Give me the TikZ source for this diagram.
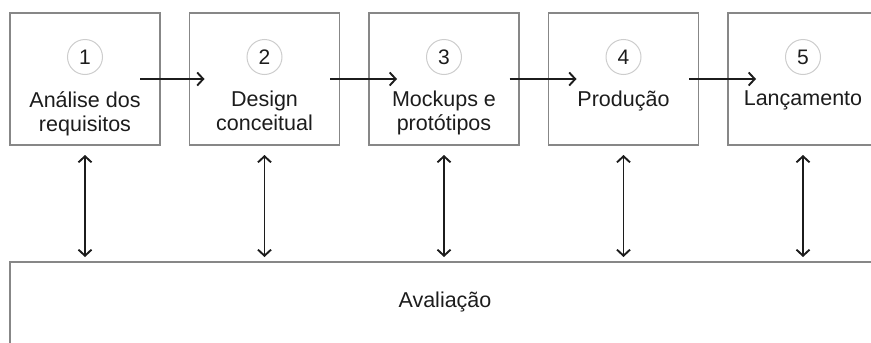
\documentclass[tikz,border=0pt]{standalone}
\usepackage{fontspec}
\setmainfont{Liberation Sans}
\usetikzlibrary{arrows.meta, positioning, calc}
\definecolor{boxgray}{RGB}{135,135,135}
\definecolor{ringgray}{RGB}{205,205,205}
\definecolor{inkgray}{RGB}{28,28,28}
\tikzset{
    stagebox/.style={rectangle, draw=boxgray, line width=1.3pt, minimum width=150pt, minimum height=132pt, inner sep=0pt, outer sep=0pt},
    evalbox/.style={rectangle, draw=boxgray, line width=1.3pt, minimum width=900pt, minimum height=120pt, inner sep=0pt, outer sep=0pt},
    flow/.style={-{Straight Barb[length=6pt, width=13pt]}, line width=1.9pt, inkgray},
    twoway/.style={{Straight Barb[length=6pt, width=13pt]}-{Straight Barb[length=6pt, width=13pt]}, line width=1.9pt, inkgray},
}

\begin{document}
\begin{tikzpicture}[
    x=1pt, y=1pt,
    node distance=29.5pt,
    numring/.style={circle, draw=ringgray, line width=1pt, minimum size=35pt, inner sep=0pt, text=inkgray, font=\fontsize{21}{24}\selectfont},
    stagetxt/.style={anchor=north, inner sep=0pt, align=center, text=inkgray, font=\fontsize{21.5}{24}\selectfont},
]
\useasboundingbox (0,0) rectangle (871,-343);
\clip (0,0) rectangle (871,-343);

% Stages
\node[stagebox] (b1) at (85,-79) {};
\node[stagebox, right=of b1] (b2) {};
\node[stagebox, right=of b2] (b3) {};
\node[stagebox, right=of b3] (b4) {};
\node[stagebox, right=of b4] (b5) {};

\node[numring] (n1) at ($(b1.north)+(0,-44)$) {1};
\node[numring] (n2) at ($(b2.north)+(0,-44)$) {2};
\node[numring] (n3) at ($(b3.north)+(0,-44)$) {3};
\node[numring] (n4) at ($(b4.north)+(0,-44)$) {4};
\node[numring] (n5) at ($(b5.north)+(0,-44)$) {5};

\node[stagetxt] (t1) at ($(b1.north)+(0,-78)$) {Análise dos\\requisitos};
\node[stagetxt] (t2) at ($(b2.north)+(0,-78)$) {Design\\conceitual};
\node[stagetxt] (t3) at ($(b3.north)+(0,-78)$) {Mockups e\\protótipos};
\node[stagetxt] (t4) at ($(b4.north)+(0,-78)$) {Produção};
\node[stagetxt] (t5) at ($(b5.north)+(0,-78)$) {Lançamento};

% Evaluation
\node[evalbox, anchor=north west] (aval) at (10,-262) {};
\node[text=inkgray, font=\fontsize{21.5}{24}\selectfont] (avaltxt) at ($(aval.north west)+(435,-40)$) {Avaliação};

% Arrows
\draw[flow, shorten <=-20pt, shorten >=-15pt] (b1.east) -- (b2.west);
\draw[flow, shorten <=-9.5pt, shorten >=-28pt] (b2.east) -- (b3.west);
\draw[flow, shorten <=-9.5pt, shorten >=-28pt] (b3.east) -- (b4.west);
\draw[flow, shorten <=-9.5pt, shorten >=-28pt] (b4.east) -- (b5.west);

\draw[twoway, shorten <=10pt, shorten >=5pt] (b1.south) -- (b1.south |- aval.north);
\draw[twoway, shorten <=10pt, shorten >=5pt] (b2.south) -- (b2.south |- aval.north);
\draw[twoway, shorten <=10pt, shorten >=5pt] (b3.south) -- (b3.south |- aval.north);
\draw[twoway, shorten <=10pt, shorten >=5pt] (b4.south) -- (b4.south |- aval.north);
\draw[twoway, shorten <=10pt, shorten >=5pt] (b5.south) -- (b5.south |- aval.north);

\end{tikzpicture}
\end{document}
